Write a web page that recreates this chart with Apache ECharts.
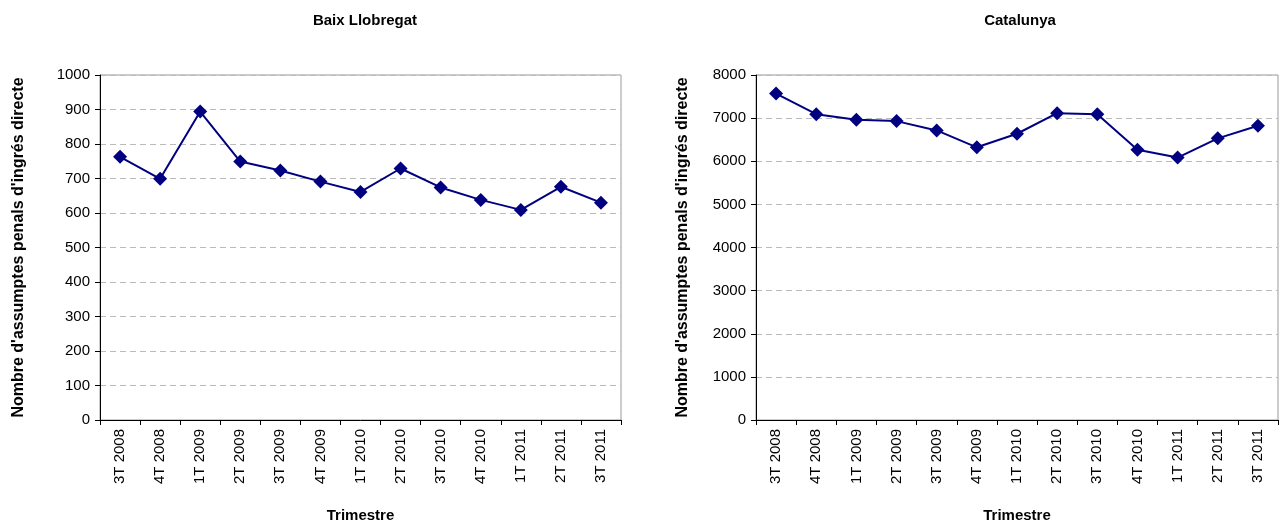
<!DOCTYPE html>
<html><head><meta charset="utf-8">
<script src="https://cdn.jsdelivr.net/npm/echarts@6/dist/echarts.min.js"></script>
<style>html,body{margin:0;padding:0;background:#fff}#c{width:1283px;height:529px}</style>
</head><body><div id="c"></div>
<script>
const categories = ['3T 2008','4T 2008','1T 2009','2T 2009','3T 2009','4T 2009','1T 2010','2T 2010','3T 2010','4T 2010','1T 2011','2T 2011','3T 2011'];
const baixValues = [763, 699, 894, 749, 723, 691, 661, 729, 674, 638, 609, 676, 630];
const catValues = [7570, 7092, 6962, 6931, 6715, 6323, 6638, 7115, 7092, 6269, 6085, 6531, 6823];
const titles = ['Baix Llobregat', 'Catalunya'];
const yName = "Nombre d'assumptes penals d'ingrés directe";
const xName = 'Trimestre';

const FONT = "'Liberation Sans Narrow', 'Arial Narrow', 'Liberation Sans', Arial, sans-serif";
const chart = echarts.init(document.getElementById('c'));
const grids = [
  {left: 100, top: 75, width: 521, height: 345, show: true, borderColor: '#999', borderWidth: 1},
  {left: 756, top: 75, width: 522, height: 345, show: true, borderColor: '#999', borderWidth: 1}
];
function xAxis(i){
  return {type:'category', gridIndex:i, data:categories, boundaryGap:true,
    axisLine:{lineStyle:{color:'#000'}}, axisTick:{show:true, length:5, lineStyle:{color:'#000'}},
    axisLabel:{rotate:90, color:'#000', fontFamily:FONT, fontSize:15, margin:9, interval:0},
    name:xName, nameLocation:'middle', nameGap:88,
    nameTextStyle:{fontFamily:FONT, fontWeight:'bold', fontSize:15, color:'#000'}};
}
function yAxis(i, max, interval){
  return {type:'value', gridIndex:i, min:0, max:max, interval:interval,
    axisLine:{show:true, lineStyle:{color:'#000'}}, axisTick:{show:true, length:5, lineStyle:{color:'#000'}},
    splitLine:{show:true, lineStyle:{color:'#bbb', type:[6,4]}},
    axisLabel:{color:'#000', fontFamily:FONT, fontSize:15, margin:10, formatter: v => String(v)},
    name:yName, nameLocation:'middle', nameGap: i===0 ? 73 : 65,
    nameTextStyle:{fontFamily:FONT, fontWeight:'bold', fontSize:16, color:'#000'}};
}
function series(i, data){
  return {type:'line', xAxisIndex:i, yAxisIndex:i, data:data, symbol:'diamond', symbolSize:14,
    lineStyle:{color:'#000080', width:2}, itemStyle:{color:'#000080'}, animation:false};
}
chart.setOption({
  animation:false,
  title:[
    {text:titles[0], left:360, top:8, textAlign:'center', textStyle:{fontFamily:FONT, fontWeight:'bold', fontSize:15, color:'#000'}},
    {text:titles[1], left:1015, top:8, textAlign:'center', textStyle:{fontFamily:FONT, fontWeight:'bold', fontSize:15, color:'#000'}}
  ],
  grid:grids,
  xAxis:[xAxis(0), xAxis(1)],
  yAxis:[yAxis(0, 1000, 100), yAxis(1, 8000, 1000)],
  series:[series(0, baixValues), series(1, catValues)]
});
</script></body></html>
